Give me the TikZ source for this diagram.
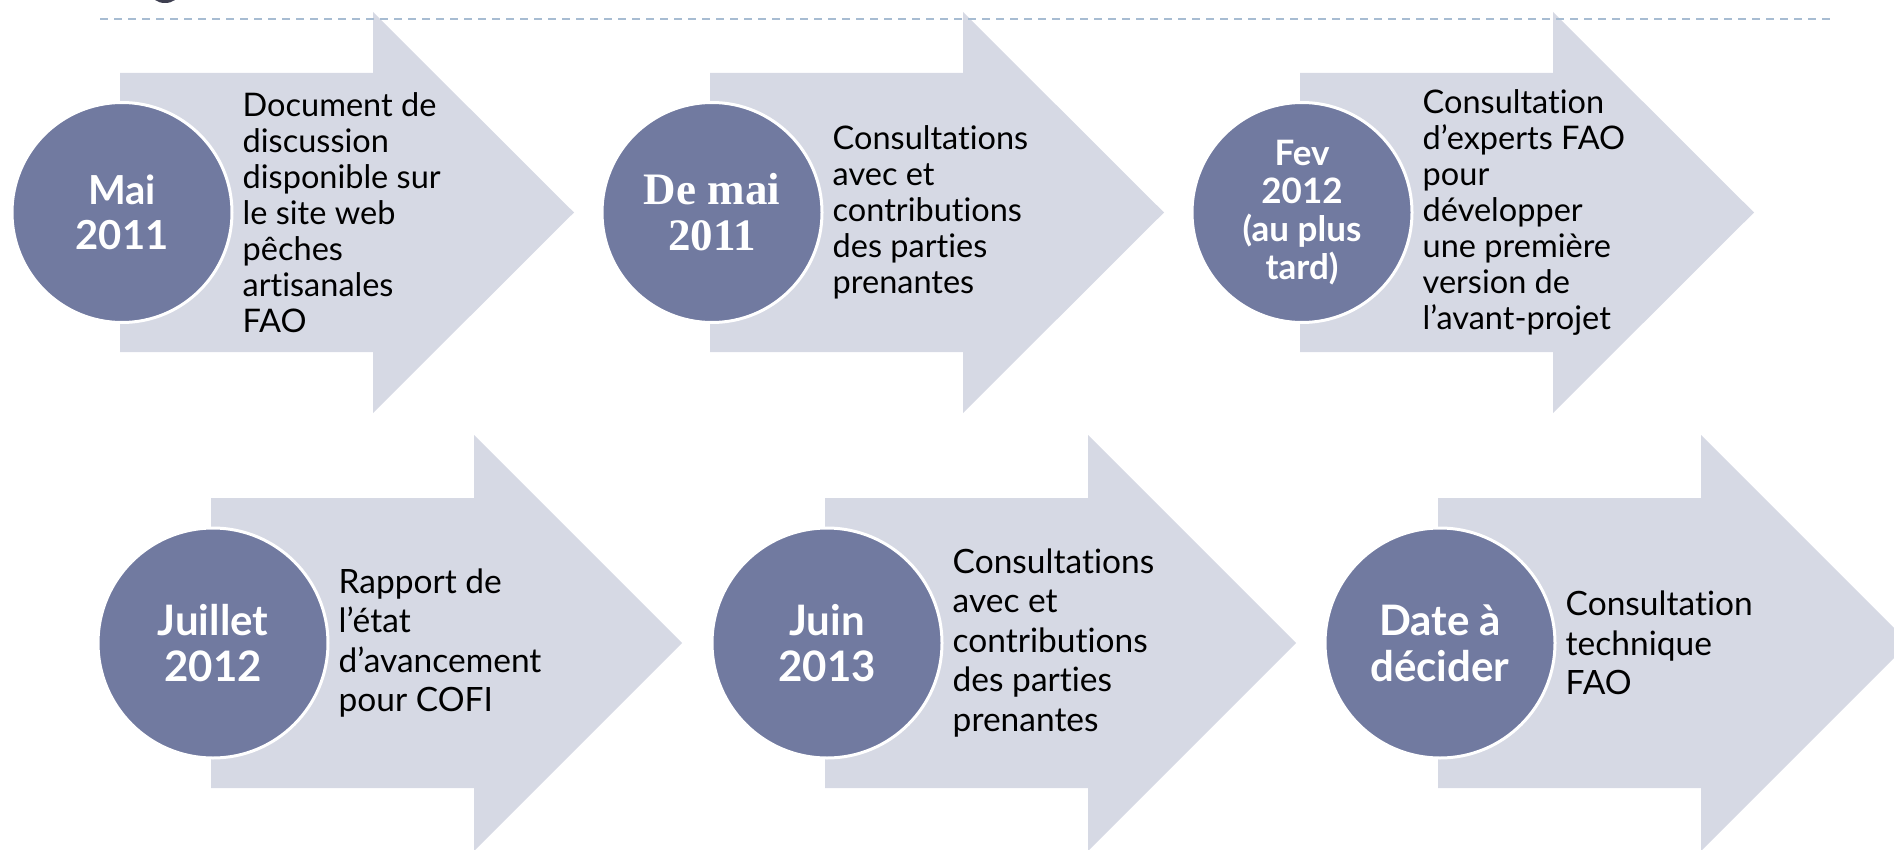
\documentclass[tikz,border=0pt]{standalone}
\usepackage{fontspec}
\setmainfont{Lato}[Ligatures=NoCommon]
\newfontfamily\datserif{Liberation Serif}
\usepackage{tikz}
\usetikzlibrary{positioning, calc}
\definecolor{arrowfill}{RGB}{214,217,228}
\definecolor{datefill}{RGB}{113,122,160}
\definecolor{dashblue}{RGB}{167,188,210}
\definecolor{titlegray}{RGB}{62,63,80}

\begin{document}
\begin{tikzpicture}[x=1pt,y=-1pt]
	\def \rowoneht{212.5}
	\def \rowtwoht{643}
	\tikzstyle{arr-shape}=[fill=arrowfill]
	\tikzstyle{d-node}=[circle,fill=datefill,draw=white,line width=3pt,inner sep=0pt,text=white,align=center]
	\tikzstyle{d-one}=[d-node,minimum size=220pt,font=\bfseries\fontsize{40}{45}\selectfont]
	\tikzstyle{d-two}=[d-node,minimum size=230pt,font=\bfseries\fontsize{42}{46}\selectfont]
	\tikzstyle{t-node}=[align=left,inner sep=0pt,text=black]
	\tikzstyle{t-one}=[t-node,font=\fontsize{32.5}{36}\selectfont]
	\tikzstyle{t-two}=[t-node,font=\fontsize{33.5}{39.5}\selectfont]
	\useasboundingbox (0,0) rectangle (1894,850);

	% title remnant
	\fill[titlegray] (165,-7) ellipse [x radius=14pt, y radius=10pt];

	% arrows, first row
	\fill[arr-shape] (120,73) -- ++(253,0) -- ++(0,-61) -- ++(201,200.5) -- ++(-201,200.5) -- ++(0,-61) -- (120,352) -- cycle;
	\fill[arr-shape] (710,73) -- ++(253,0) -- ++(0,-61) -- ++(201,200.5) -- ++(-201,200.5) -- ++(0,-61) -- (710,352) -- cycle;
	\fill[arr-shape] (1300,73) -- ++(253,0) -- ++(0,-61) -- ++(201,200.5) -- ++(-201,200.5) -- ++(0,-61) -- (1300,352) -- cycle;

	% arrows, second row
	\fill[arr-shape] (211,498) -- ++(263,0) -- ++(0,-63) -- ++(208,208) -- ++(-208,208) -- ++(0,-63) -- (211,788) -- cycle;
	\fill[arr-shape] (825,498) -- ++(263,0) -- ++(0,-63) -- ++(208,208) -- ++(-208,208) -- ++(0,-63) -- (825,788) -- cycle;
	\fill[arr-shape] (1438,498) -- ++(263,0) -- ++(0,-63) -- ++(208,208) -- ++(-208,208) -- ++(0,-63) -- (1438,788) -- cycle;

	% dashed rule
	\draw[dashblue,line width=1.5pt,dash pattern=on 8pt off 6pt] (100,19) -- (1830,19);

	% dates
	\node[d-one] 	(d0)	at (122,\rowoneht)	{Mai\\2011};
	\node[d-one,font=\datserif\bfseries\fontsize{45}{46}\selectfont] 	(d1)	at (712,\rowoneht)	{De mai\\2011};
	\node[d-one,font=\bfseries\fontsize{35}{38}\selectfont] 	(d2)	at (1302,\rowoneht)	{Fev\\2012\\(au plus\\tard)};
	\node[d-two] 	(d3)	at (213,\rowtwoht)	{Juillet\\2012};
	\node[d-two] 	(d4)	at (827,\rowtwoht)	{Juin\\2013};
	\node[d-two] 	(d5)	at (1440,\rowtwoht)	{Date à\\décider};

	% steps
	\node[t-one,right=9pt of d0]	(t0)	{Document de\\discussion\\disponible sur\\le site web\\pêches\\artisanales\\FAO};
	\node[t-one,right=9pt of d1]	(t1)	{Consultations\\avec et\\contributions\\des parties\\prenantes};
	\node[t-one,right=9pt of d2]	(t2)	{Consultation\\d’experts FAO\\pour\\développer\\une première\\version de\\l’avant-projet};
	\node[t-two,right=9pt of d3]	(t3)	{Rapport de\\l’état\\d’avancement\\pour COFI};
	\node[t-two,right=9pt of d4]	(t4)	{Consultations\\avec et\\contributions\\des parties\\prenantes};
	\node[t-two,right=9pt of d5]	(t5)	{Consultation\\technique\\FAO};
\end{tikzpicture}
\end{document}
